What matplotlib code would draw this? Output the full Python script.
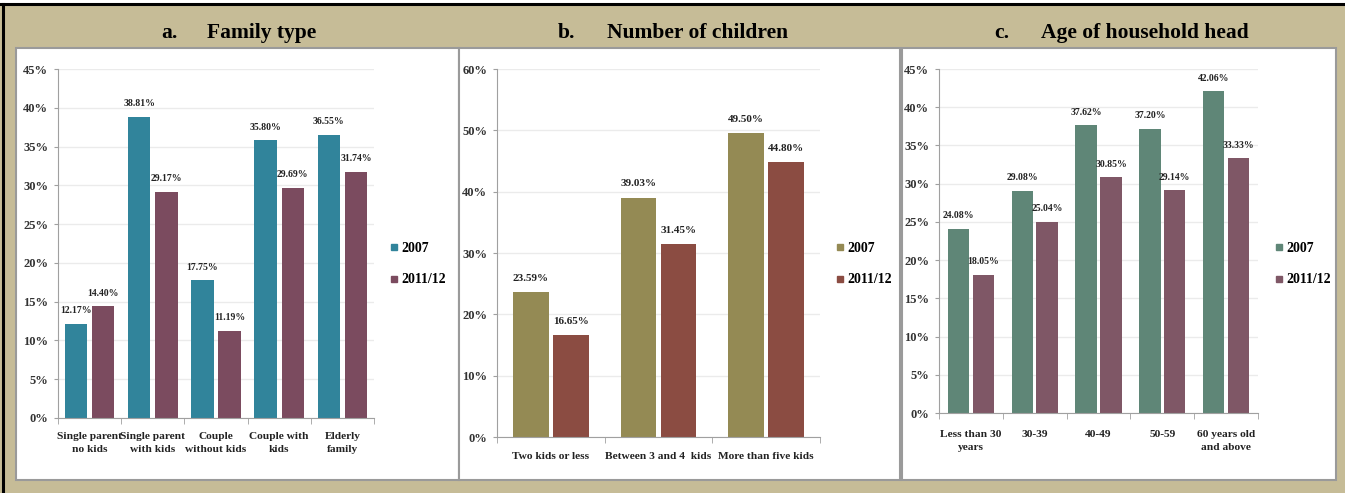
import matplotlib.pyplot as plt
import numpy as np
from matplotlib.patches import Rectangle
from matplotlib.lines import Line2D

W, H = 1345, 493

series_names = ["2007", "2011/12"]

family_types = ["Single parent\nno kids", "Single parent\nwith kids", "Couple\nwithout kids",
                "Couple with\nkids", "Elderly\nfamily"]
family_2007 = [12.17, 38.81, 17.75, 35.80, 36.55]
family_2011 = [14.40, 29.17, 11.19, 29.69, 31.74]

children_groups = ["Two kids or less", "Between 3 and 4  kids", "More than five kids"]
children_2007 = [23.59, 39.03, 49.50]
children_2011 = [16.65, 31.45, 44.80]

age_groups = ["Less than 30\nyears", "30-39", "40-49", "50-59", "60 years old\nand above"]
age_2007 = [24.08, 29.08, 37.62, 37.20, 42.06]
age_2011 = [18.05, 25.04, 30.85, 29.14, 33.33]

SERIF = "Liberation Serif"
TAN = "#c6bc97"


def px_axes(fig, left, top, right, bottom):
    ax = fig.add_axes([left / W, 1 - bottom / H, (right - left) / W, (bottom - top) / H])
    ax.set_facecolor("none")
    ax.set_zorder(2)
    return ax


def panel_box(fig, left, top, right, bottom):
    fig.patches.append(Rectangle((left / W, 1 - bottom / H), (right - left) / W, (bottom - top) / H,
                                 transform=fig.transFigure, facecolor="white",
                                 edgecolor="#9a9a9a", linewidth=1.5, zorder=-5))


def bar_panel(fig, box, cats, v1, v2, colors, ymax, ystep, off, width, val_size, legend_xy, xpad):
    ax = px_axes(fig, *box)
    x = np.arange(len(cats))
    ax.bar(x - off, v1, width, color=colors[0], zorder=2)
    ax.bar(x + off, v2, width, color=colors[1], zorder=2)
    for xs, vals in ((x - off, v1), (x + off, v2)):
        for xi, v in zip(xs, vals):
            ax.text(xi, v + ymax * 0.025, f"{v:.2f}%", ha="center", va="bottom",
                    fontsize=val_size, family=SERIF, fontweight="bold", color="#222222")
    ax.set_xlim(-0.5, len(cats) - 0.5)
    ax.set_ylim(0, ymax)
    yt = np.arange(0, ymax + 0.1, ystep)
    ax.set_yticks(yt)
    ax.set_yticklabels([f"{int(t)}%" for t in yt], family=SERIF, fontweight="bold",
                       fontsize=9, color="#333333")
    ax.set_xticks(x)
    ax.set_xticklabels(cats, family=SERIF, fontweight="bold", fontsize=8.2, color="#222222",
                       linespacing=1.65)
    ax.tick_params(axis="x", length=0, pad=xpad)
    ax.set_xticks(np.arange(-0.5, len(cats)), minor=True)
    ax.tick_params(axis="x", which="minor", length=4, color="#a0a0a0")
    ax.tick_params(axis="y", length=3, color="#a0a0a0", pad=4)
    ax.grid(axis="y", color="#ebebeb", linewidth=1, zorder=0)
    ax.set_axisbelow(True)
    for s in ("top", "right"):
        ax.spines[s].set_visible(False)
    for s in ("left", "bottom"):
        ax.spines[s].set_color("#a0a0a0")
    handles = [Line2D([], [], marker="s", linestyle="none", markersize=5, color=c) for c in colors]
    fig.legend(handles, series_names, loc="center left",
               bbox_to_anchor=(legend_xy[0] / W, 1 - legend_xy[1] / H), frameon=False,
               prop={"family": SERIF, "weight": "bold", "size": 10}, handletextpad=0.1,
               labelspacing=1.35, handlelength=0.8)
    return ax


fig = plt.figure(figsize=(W / 100, H / 100), dpi=100, facecolor=TAN)

# frame lines of the page
fig.patches.append(Rectangle((0, 1 - 3 / H), 1, 3 / H, transform=fig.transFigure,
                             facecolor="white", edgecolor="none", zorder=-5))
fig.lines.append(Line2D([0, 1], [1 - 4 / H, 1 - 4 / H], transform=fig.transFigure,
                        color="black", linewidth=2.2))
fig.lines.append(Line2D([3 / W, 3 / W], [0, 1 - 4 / H], transform=fig.transFigure,
                        color="black", linewidth=2.2))

panel_box(fig, 16, 48, 459, 480)
panel_box(fig, 459, 48, 900, 480)
panel_box(fig, 902, 48, 1336, 480)

bar_panel(fig, (58, 69, 374, 418), family_types, family_2007, family_2011,
          ["#31849b", "#7b4b5f"], 45, 5, 0.215, 0.355, 7, (376, 264), 10)
bar_panel(fig, (497, 69, 820, 437), children_groups, children_2007, children_2011,
          ["#948a54", "#8b4c42"], 60, 10, 0.185, 0.33, 8, (822, 264), 11)
bar_panel(fig, (939, 69, 1258, 413), age_groups, age_2007, age_2011,
          ["#5f8677", "#7f5766"], 45, 5, 0.195, 0.335, 7, (1261, 264), 12)

titles = [(161, 207, "a.", "Family type"),
          (558, 607, "b.", "Number of children"),
          (994, 1041, "c.", "Age of household head")]
for x1, x2, letter, label in titles:
    for xx, s in ((x1, letter), (x2, label)):
        fig.text(xx / W, 1 - 33 / H, s, ha="left", va="center", family=SERIF,
                 fontweight="bold", fontsize=15.5, color="black")

fig.savefig("out.png", dpi=100, facecolor=TAN)
